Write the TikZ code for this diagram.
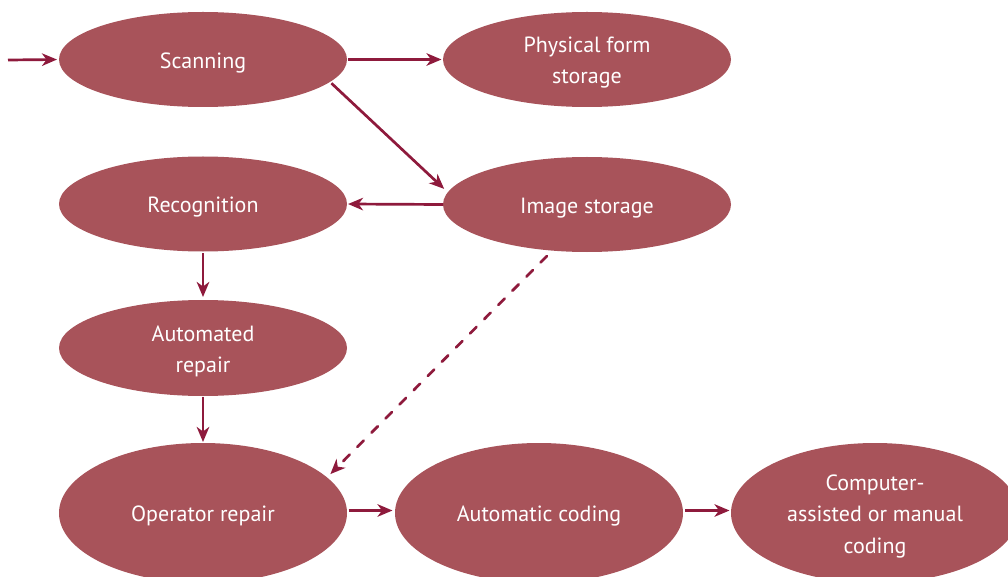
\documentclass[tikz,border=0pt]{standalone}
\usepackage{fontspec}
\setmainfont{PT Sans}
\usetikzlibrary{shapes.geometric,arrows.meta}

\definecolor{stagefill}{RGB}{168,83,90}
\definecolor{flowline}{RGB}{142,26,60}

% invisible strut on the first line: lowers the label inside its ellipse
\newcommand{\topgap}{\rule{0pt}{22pt}}

\tikzset{
  stage/.style={ellipse, fill=stagefill, draw=none, text=white,
    inner sep=0pt, outer sep=0pt, align=center,
    minimum width=288pt, minimum height=95pt,
    font=\fontsize{22}{31.5}\selectfont},
  bigstage/.style={stage, minimum height=140pt},
  flow/.style={draw=flowline, line width=2.7pt,
    -{Stealth[length=15pt, width=12.5pt, inset=4.5pt]}},
  dashflow/.style={flow, line cap=round, dash pattern=on 9pt off 11pt}
}

\begin{document}
\begin{tikzpicture}[x=1pt, y=-1pt]
  \useasboundingbox (0,0) rectangle (1008,577);

  % process stages
  \node[stage] (scan) at (203,59.5)  {\topgap Scanning};
  \node[stage] (phys) at (587,59.5)  {\topgap Physical form\\storage};
  \node[stage] (rec)  at (203,204)   {\topgap Recognition};
  \node[stage] (img)  at (587,204.5) {\topgap Image storage};
  \node[stage, minimum height=96pt] (arep) at (203,348) {\topgap Automated\\repair};
  \node[bigstage] (orep) at (203,513) {\topgap Operator repair};
  \node[bigstage] (acode) at (539,513) {\topgap Automatic coding};
  \node[bigstage] (mcode) at (875,513) {\topgap Computer-\\assisted or manual\\coding};

  % entry point of the flow
  \coordinate (in) at (8,60);

  % connectors
  \draw[flow, shorten >=2pt] (in) -- (scan.west);
  \draw[flow, shorten <=1pt, shorten >=1.5pt] (scan.east) -- (phys.west);
  \draw[flow, shorten <=2pt, shorten >=5pt] (scan.-10) -- (img.175.5);
  \draw[flow, shorten >=1pt] (img.west) -- (rec.east);
  \draw[flow, shorten <=1.5pt, shorten >=3pt] (rec.south) -- (arep.north);
  \draw[flow, shorten <=1pt, shorten >=1pt] (arep.south) -- (orep.north);
  \draw[dashflow, shorten <=7.6pt, shorten >=4.7pt] (img.233) -- (orep.16.5);
  \draw[flow, shorten <=1.5pt, shorten >=2.5pt]
    ([yshift=2.5pt]orep.east) -- ([yshift=2.5pt]acode.west);
  \draw[flow, shorten <=2pt, shorten >=1.5pt]
    ([yshift=2.5pt]acode.east) -- ([yshift=2.5pt]mcode.west);
\end{tikzpicture}
\end{document}
